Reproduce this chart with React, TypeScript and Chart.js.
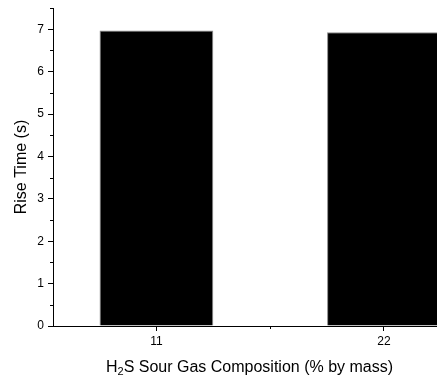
import React, { useEffect, useRef } from "react";
import { Chart, registerables } from "chart.js";

Chart.register(...registerables);

const compositions = [11, 22];
const riseTimes = [6.97, 6.93];
const xMajorTicks = [11, 22];
const yMajorTicks = [0, 1, 2, 3, 4, 5, 6, 7];
const xMinorTicks = [16.5];
const yMinorTicks = [0.5, 1.5, 2.5, 3.5, 4.5, 5.5, 6.5, 7.5];
const yTitle = "Rise Time (s)";
const xTitleParts = ["H", "2", "S Sour Gas Composition (% by mass)"];

const FONT = "'Liberation Sans', Arial, sans-serif";

const minorTickPlugin = {
  id: "minorTicks",
  afterDraw(chart: any) {
    const ctx = chart.ctx;
    const xs = chart.scales.x;
    const ys = chart.scales.y;
    const area = chart.chartArea;
    ctx.save();
    ctx.strokeStyle = "#000";
    ctx.lineWidth = 1;
    ctx.beginPath();
    for (const v of yMinorTicks) {
      const py = Math.round(ys.getPixelForValue(v)) + 0.5;
      ctx.moveTo(area.left - 3, py);
      ctx.lineTo(area.left, py);
    }
    for (const v of xMinorTicks) {
      const px = Math.round(xs.getPixelForValue(v)) + 0.5;
      ctx.moveTo(px, area.bottom);
      ctx.lineTo(px, area.bottom + 3);
    }
    ctx.stroke();

    // x-axis title with subscript
    const big = "16px " + FONT;
    const small = "11px " + FONT;
    ctx.fillStyle = "#000";
    ctx.textBaseline = "alphabetic";
    ctx.font = big;
    const w0 = ctx.measureText(xTitleParts[0]).width;
    const w2 = ctx.measureText(xTitleParts[2]).width;
    ctx.font = small;
    const w1 = ctx.measureText(xTitleParts[1]).width;
    const total = w0 + w1 + w2;
    const cx = (area.left + area.right) / 2;
    let x = cx - total / 2;
    const base = area.bottom + 45.5;
    ctx.font = big;
    ctx.fillText(xTitleParts[0], x, base);
    x += w0;
    ctx.font = small;
    ctx.fillText(xTitleParts[1], x, base + 3);
    x += w1;
    ctx.font = big;
    ctx.fillText(xTitleParts[2], x, base);
    ctx.restore();
  },
};

export default function App() {
  const ref = useRef<HTMLCanvasElement | null>(null);

  useEffect(() => {
    document.body.style.overflow = "hidden";
    const canvas = ref.current;
    if (!canvas) return;
    const chart = new Chart(canvas, {
      type: "bar",
      data: {
        datasets: [
          {
            data: compositions.map((c, i) => ({ x: c, y: riseTimes[i] })),
            backgroundColor: "#000000",
            borderColor: "#8a8a8a",
            borderWidth: 1,
            categoryPercentage: 0.5,
            barPercentage: 1,
          },
        ],
      },
      options: {
        animation: false,
        responsive: false,
        maintainAspectRatio: false,
        events: [],
        layout: { padding: { top: 8, right: 14, left: 0, bottom: 0 } },
        plugins: {
          legend: { display: false },
          tooltip: { enabled: false },
        },
        scales: {
          x: {
            type: "linear",
            min: 6,
            max: 25,
            offset: false,
            afterBuildTicks: (s: any) => {
              s.ticks = xMajorTicks.map((v) => ({ value: v }));
            },
            afterFit: (s: any) => {
              s.height = 53;
              s.paddingLeft = 0;
              s.paddingRight = 0;
            },
            grid: {
              offset: false,
              drawOnChartArea: false,
              drawTicks: true,
              tickLength: 5,
              tickColor: "#000",
              tickWidth: 1,
            },
            border: { display: true, color: "#000", width: 1 },
            ticks: {
              color: "#000",
              font: { family: FONT, size: 12 },
              padding: 3,
              maxRotation: 0,
              callback: (v: any) => String(v),
            },
          },
          y: {
            type: "linear",
            min: 0,
            max: 7.5,
            afterBuildTicks: (s: any) => {
              s.ticks = yMajorTicks.map((v) => ({ value: v }));
            },
            afterFit: (s: any) => {
              s.width = 53;
              s.paddingTop = 0;
              s.paddingBottom = 0;
            },
            grid: {
              drawOnChartArea: false,
              drawTicks: true,
              tickLength: 5,
              tickColor: "#000",
              tickWidth: 1,
            },
            border: { display: true, color: "#000", width: 1 },
            ticks: {
              color: "#000",
              font: { family: FONT, size: 12 },
              padding: 4,
              callback: (v: any) => String(v),
            },
            title: {
              display: true,
              text: yTitle,
              color: "#000",
              font: { family: FONT, size: 16 },
              padding: { top: 12, bottom: 0 },
            },
          },
        },
      },
      plugins: [minorTickPlugin],
    });
    return () => chart.destroy();
  }, []);

  return (
    <div
      style={{
        position: "fixed",
        left: 0,
        top: 0,
        width: 437,
        height: 379,
        overflow: "hidden",
        background: "#fff",
      }}
    >
      <canvas
        ref={ref}
        width={460}
        height={379}
        style={{ display: "block", width: 460, height: 379 }}
      />
    </div>
  );
}
